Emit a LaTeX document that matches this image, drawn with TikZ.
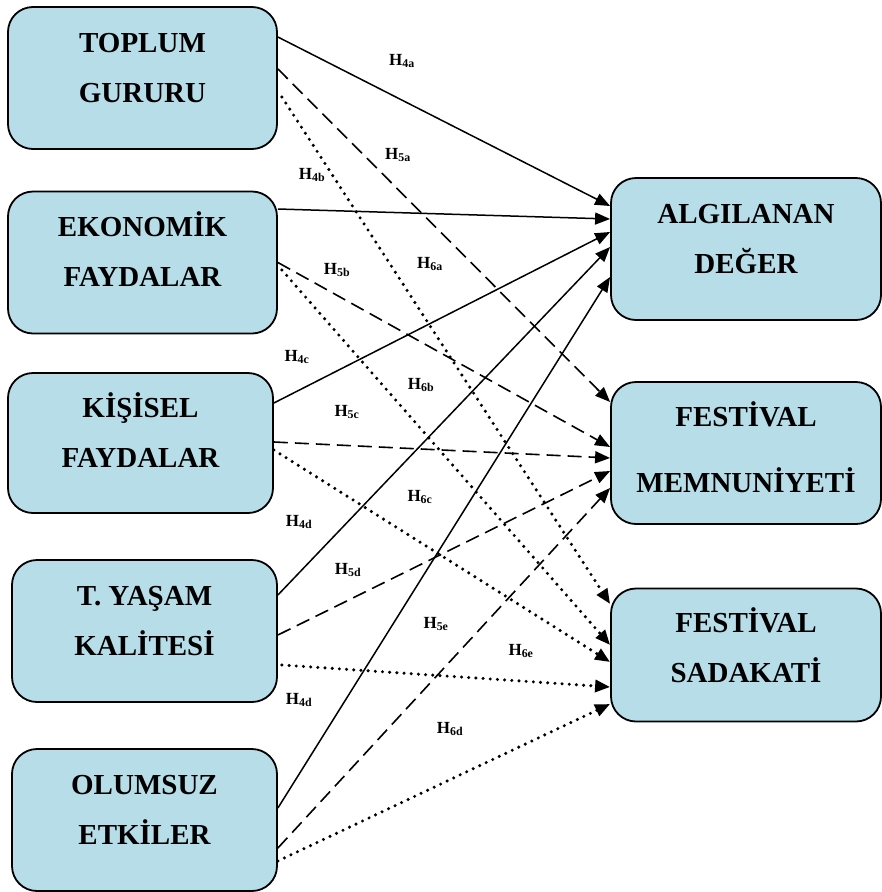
\documentclass[tikz,border=0pt]{standalone}
\usepackage{fontspec}
\setmainfont{Liberation Serif}
\usetikzlibrary{arrows.meta}
\pgfdeclarelayer{bg}
\pgfsetlayers{bg,main}
\definecolor{boxblue}{RGB}{183,222,232}
\tikzset{
  box/.style={draw=black, line width=1.8pt, fill=boxblue, rounded corners=25pt,
    inner sep=0pt, minimum width=269pt, minimum height=142pt, align=center,
    font=\fontsize{29}{50}\selectfont\bfseries, text height=70pt, text depth=22pt},
  hyp/.style={inner sep=0pt, font=\fontsize{17}{20}\selectfont\bfseries},
  h4/.style={line width=1.5pt, -{Triangle[length=15pt,width=12pt]}},
  h5/.style={line width=1.6pt, dash pattern=on 14pt off 7pt, -{Triangle[length=15pt,width=12pt]}},
  h6/.style={line width=3.4pt, line cap=round, dash pattern=on 0pt off 7.2pt, -{Triangle[length=15pt,width=12pt]}},
}
\begin{document}
\begin{tikzpicture}
        \useasboundingbox (0pt,0pt) rectangle (882pt,-892pt);
        % sol taraf
        \node (tg) [box] at (142.5pt, -78pt) {TOPLUM\\GURURU};
        \node (ef) [box] at (142.5pt, -262.5pt) {EKONOMİK\\FAYDALAR};
        \node (kf) [box, minimum width=265pt, minimum height=140pt] at (140.5pt, -443pt) {KİŞİSEL\\FAYDALAR};
        \node (ty) [box, minimum width=265pt] at (144.5pt, -631pt) {T. YAŞAM\\KALİTESİ};
        \node (oe) [box, minimum width=265pt] at (144.5pt, -820pt) {OLUMSUZ\\ETKİLER};
        % sag taraf
        \node (ad) [box, minimum width=270pt] at (746pt, -249pt) {ALGILANAN\\DEĞER};
        \node (fm) [box, minimum width=270pt, font=\fontsize{29}{66}\selectfont\bfseries, text height=90pt, text depth=10.8pt] at (746pt, -453pt) {FESTİVAL\\MEMNUNİYETİ};
        \node (fs) [box, minimum width=270pt, minimum height=133pt, text depth=15.8pt] at (746pt, -655pt) {FESTİVAL\\SADAKATİ};
        % hipotezler
        \node (h4a) [hyp] at (402pt, -61pt) {H\textsubscript{4a}};
        \node (h5a) [hyp] at (398pt, -155pt) {H\textsubscript{5a}};
        \node (h4b) [hyp] at (312pt, -175pt) {H\textsubscript{4b}};
        \node (h5b) [hyp] at (337pt, -270pt) {H\textsubscript{5b}};
        \node (h6a) [hyp] at (430pt, -264pt) {H\textsubscript{6a}};
        \node (h4c) [hyp] at (297pt, -357pt) {H\textsubscript{4c}};
        \node (h6b) [hyp] at (421pt, -385pt) {H\textsubscript{6b}};
        \node (h5c) [hyp] at (347pt, -412pt) {H\textsubscript{5c}};
        \node (h6c) [hyp] at (420pt, -497pt) {H\textsubscript{6c}};
        \node (h4d) [hyp] at (299pt, -522pt) {H\textsubscript{4d}};
        \node (h5d) [hyp] at (348pt, -570pt) {H\textsubscript{5d}};
        \node (h5e) [hyp] at (436pt, -624pt) {H\textsubscript{5e}};
        \node (h6e) [hyp] at (521pt, -651pt) {H\textsubscript{6e}};
        \node (h4e) [hyp] at (299pt, -700pt) {H\textsubscript{4d}};
        \node (h6d) [hyp] at (450pt, -729pt) {H\textsubscript{6d}};
        \begin{pgfonlayer}{bg}
                \draw ([yshift=41pt]tg.east) edge [h4] ([yshift=43pt]ad.west);
                \draw ([yshift=9pt]tg.east) edge [h5] ([yshift=51pt]fm.west);
                \draw ([xshift=4pt,yshift=-19pt]tg.east) edge [h6] ([yshift=51pt]fs.west);
                \draw ([yshift=53.5pt]ef.east) edge [h4] ([yshift=30pt]ad.west);
                \draw ([yshift=0pt]ef.east) edge [h5] ([yshift=6pt]fm.west);
                \draw ([xshift=4pt,yshift=-7.5pt]ef.east) edge [h6] ([yshift=10pt]fs.west);
                \draw ([yshift=40pt]kf.east) edge [h4] ([yshift=17pt]ad.west);
                \draw ([yshift=1pt]kf.east) edge [h5] ([yshift=-5pt]fm.west);
                \draw ([yshift=-7pt]kf.east) edge [h6] ([yshift=-7pt]fs.west);
                \draw ([yshift=36pt]ty.east) edge [h4] ([yshift=2pt]ad.west);
                \draw ([yshift=-4pt]ty.east) edge [h5] ([yshift=-18pt]fm.west);
                \draw ([xshift=4pt,yshift=-34pt]ty.east) edge [h6] ([yshift=-32pt]fs.west);
                \draw ([yshift=12pt]oe.east) edge [h4] ([yshift=-28pt]ad.west);
                \draw ([yshift=-28pt]oe.east) edge [h5] ([yshift=-35pt]fm.west);
                \draw ([yshift=-41pt]oe.east) edge [h6] ([yshift=-49pt]fs.west);
        \end{pgfonlayer}
\end{tikzpicture}
\end{document}
